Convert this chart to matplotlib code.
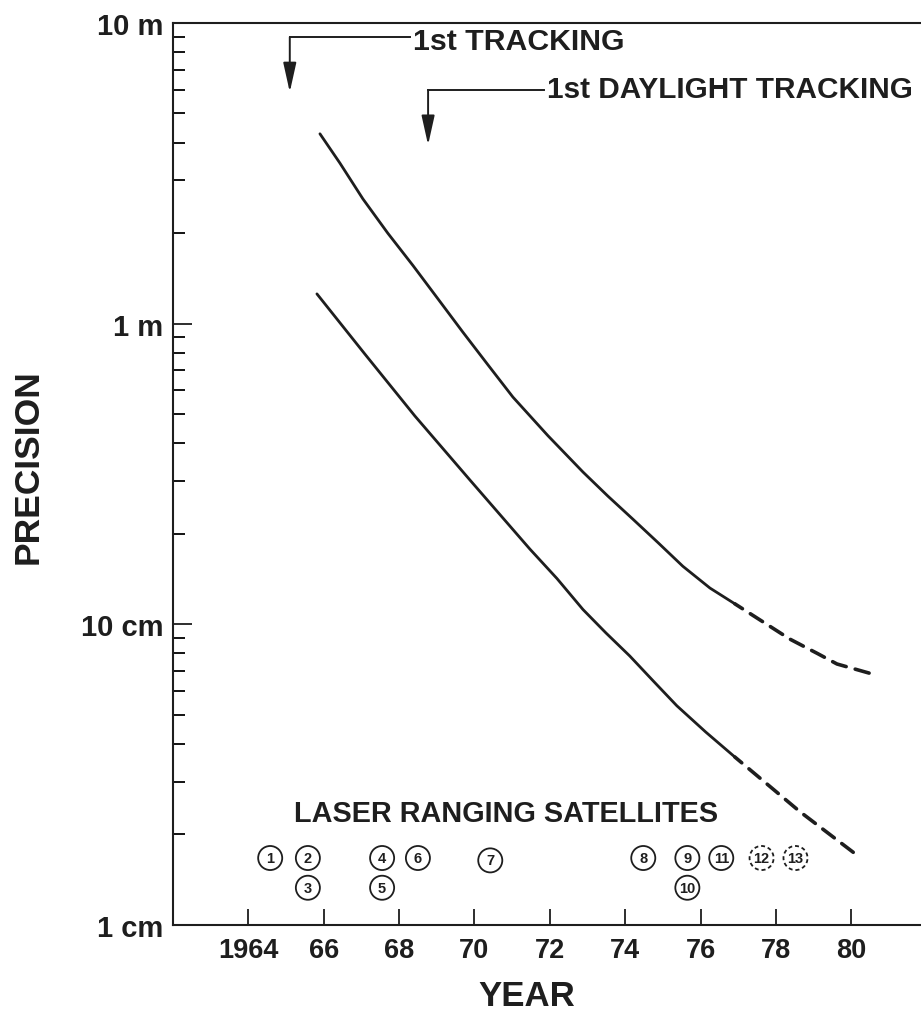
import matplotlib.pyplot as plt
from matplotlib.ticker import LogLocator, NullFormatter

plt.rcParams['font.family'] = ['Liberation Sans', 'DejaVu Sans']
plt.rcParams['font.weight'] = 'bold'
ink = '#1e1e1e'

# precision curves (year, cm)
upper_years = [1965.90, 1966.43, 1967.04, 1967.70, 1968.37, 1969.03, 1969.69, 1970.36,
               1971.02, 1971.95, 1972.88, 1973.54, 1974.20, 1974.87, 1975.53, 1976.25, 1976.91]
upper_cm = [428, 342, 260, 200, 156, 121, 93.8, 72.9,
            57.0, 42.4, 32.1, 26.7, 22.4, 18.7, 15.6, 13.2, 11.7]
upper_dash_years = [1976.91, 1978.37, 1979.10, 1979.62, 1980.55]
upper_dash_cm = [11.7, 8.93, 8.0, 7.38, 6.84]

lower_years = [1965.82, 1967.09, 1968.42, 1969.88, 1971.47, 1972.19, 1972.88, 1973.49,
               1974.12, 1974.74, 1975.37, 1976.14, 1976.91]
lower_cm = [125.6, 79.3, 49.3, 30.2, 17.8, 14.2, 11.2, 9.36,
            7.85, 6.49, 5.36, 4.38, 3.62]
lower_dash_years = [1976.91, 1978.64, 1980.17]
lower_dash_cm = [3.62, 2.38, 1.70]

# laser ranging satellites: number, year position, row level (cm), planned?
sat_num = [1, 2, 3, 4, 5, 6, 7, 8, 9, 10, 11, 12, 13]
sat_year = [1964.58, 1965.58, 1965.58, 1967.55, 1967.55, 1968.50, 1970.42,
            1974.48, 1975.65, 1975.65, 1976.55, 1977.62, 1978.52]
sat_cm = [1.67, 1.67, 1.33, 1.67, 1.33, 1.67, 1.64, 1.67, 1.67, 1.33, 1.67, 1.67, 1.67]
sat_planned = [False] * 11 + [True, True]

ytick_vals = [1, 10, 100, 1000]
ytick_labels = ['1 cm', '10 cm', '1 m', '10 m']
xtick_vals = [1964, 1966, 1968, 1970, 1972, 1974, 1976, 1978, 1980]
xtick_labels = ['1964', '66', '68', '70', '72', '74', '76', '78', '80']

fig = plt.figure(figsize=(9.21, 10.12), dpi=100)
ax = fig.add_axes([0.1878, 0.085, 0.8122, 0.8913])
ax.set_yscale('log')
ax.set_xlim(1962, 1981.85)
ax.set_ylim(1, 1000)

ax.plot(upper_years, upper_cm, color=ink, lw=2.0, solid_capstyle='round')
ax.plot(lower_years, lower_cm, color=ink, lw=2.0, solid_capstyle='round')
ax.plot(upper_dash_years, upper_dash_cm, color=ink, lw=2.6, linestyle=(1.5, (4, 2.6)),
        dash_capstyle='round')
ax.plot(lower_dash_years, lower_dash_cm, color=ink, lw=2.6, linestyle=(1.5, (4, 2.6)),
        dash_capstyle='round')

# satellites
for n, yr, cm, planned in zip(sat_num, sat_year, sat_cm, sat_planned):
    ax.scatter([yr], [cm], s=300, facecolors='none', edgecolors=ink, linewidths=1.3,
               linestyles=(0, (2.2, 1.6)) if planned else 'solid', zorder=3)
    ax.text(yr, cm, str(n), ha='center', va='center', fontsize=10.5, color=ink)
ax.text(1970.85, 2.36, 'LASER RANGING SATELLITES', ha='center', va='center',
        fontsize=20.8, color=ink)

# event arrows
ax.plot([1965.10, 1968.3], [898, 898], color=ink, lw=1.4)
ax.annotate('', xy=(1965.10, 589), xytext=(1965.10, 898),
            arrowprops=dict(arrowstyle='-|>,head_length=0.9,head_width=0.2', color=ink,
                            lw=1.4, shrinkA=0, shrinkB=0, mutation_scale=20))
ax.text(1968.37, 871, '1st TRACKING', ha='left', va='center', fontsize=21.8, color=ink)

ax.plot([1968.77, 1971.85], [598.6, 598.6], color=ink, lw=1.4)
ax.annotate('', xy=(1968.77, 393), xytext=(1968.77, 598.6),
            arrowprops=dict(arrowstyle='-|>,head_length=0.9,head_width=0.2', color=ink,
                            lw=1.4, shrinkA=0, shrinkB=0, mutation_scale=20))
ax.text(1971.92, 603, '1st DAYLIGHT TRACKING', ha='left', va='center', fontsize=21.4,
        color=ink)

# axes styling
for side in ['left', 'top', 'bottom']:
    ax.spines[side].set_linewidth(1.5)
    ax.spines[side].set_color(ink)
ax.spines['right'].set_visible(False)

ax.set_xticks(xtick_vals)
ax.set_xticklabels(xtick_labels)
ax.set_yticks(ytick_vals)
ax.set_yticklabels(ytick_labels)
ax.yaxis.set_minor_locator(LogLocator(base=10, subs=range(2, 10)))
ax.yaxis.set_minor_formatter(NullFormatter())
ax.tick_params(axis='x', direction='in', length=11.5, width=1.3, pad=9,
               labelsize=19.5, colors=ink, top=False)
ax.tick_params(axis='y', which='major', direction='in', length=13.5, width=1.3, pad=7,
               labelsize=21, colors=ink, right=False)
ax.tick_params(axis='y', which='minor', direction='in', length=8.5, width=1.3, right=False)

fig.text(0.572, 0.015, 'YEAR', ha='center', va='center', fontsize=25, color=ink)
fig.text(0.030, 0.539, 'PRECISION', ha='center', va='center', rotation=90,
         fontsize=25.5, color=ink)

fig.savefig('out.png', dpi=100)
